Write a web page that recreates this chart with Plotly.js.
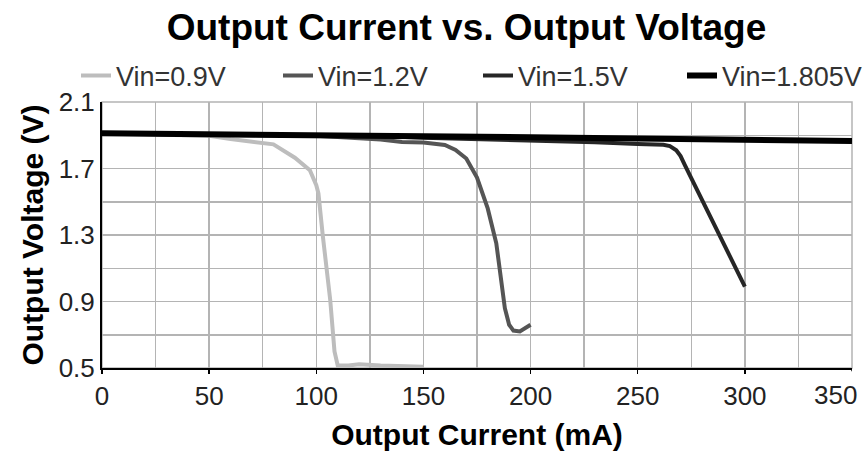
<!DOCTYPE html>
<html>
<head>
<meta charset="utf-8">
<script src="https://cdn.plot.ly/plotly-3.0.1.min.js"></script>
<style>html,body{margin:0;padding:0;background:#fff;}#chart{width:867px;height:460px;}</style>
</head>
<body>
<div id="chart"></div>
<script>
// Data
const seriesNames = ["Vin=0.9V", "Vin=1.2V", "Vin=1.5V", "Vin=1.805V"];

const current09 = [0, 20, 40, 50, 60, 70, 80, 90, 97, 100, 101, 103, 106.5, 108.5, 110, 115, 120, 130, 140, 150];
const voltage09 = [1.91, 1.905, 1.9, 1.897, 1.877, 1.862, 1.845, 1.765, 1.69, 1.6, 1.55, 1.3, 0.91, 0.6, 0.515, 0.515, 0.522, 0.515, 0.512, 0.508];

const current12 = [0, 50, 100, 130, 140, 150, 160, 165, 170, 175, 180, 184, 186, 188, 190, 192, 195, 198, 200];
const voltage12 = [1.91, 1.905, 1.897, 1.875, 1.86, 1.857, 1.842, 1.812, 1.76, 1.645, 1.46, 1.25, 1.05, 0.86, 0.76, 0.725, 0.72, 0.74, 0.76];

const current15 = [0, 50, 100, 130, 150, 200, 230, 250, 262, 265, 268, 270, 272, 300];
const voltage15 = [1.91, 1.905, 1.9, 1.895, 1.885, 1.87, 1.858, 1.847, 1.843, 1.835, 1.81, 1.775, 1.72, 0.99];

const current18 = [0, 100, 130, 150, 200, 250, 300, 350];
const voltage18 = [1.912, 1.905, 1.9, 1.894, 1.888, 1.882, 1.875, 1.865];

const xTickVals = [0, 50, 100, 150, 200, 250, 300];
const xEdgeTick = 350;
const yTickVals = [0.5, 0.9, 1.3, 1.7, 2.1];

const FONT = "Liberation Sans, Arial, sans-serif";
const legendTextX = [118, 320, 520, 724];   // pixel x where each legend label starts
const legendFont = {family: FONT, size: 27, color: "#333"};

function legendAt(i) {
  return {orientation: "h", x: (legendTextX[i] - 42) / 867, xref: "container", xanchor: "left",
          y: 1 - 76 / 460, yref: "container", yanchor: "middle",
          font: legendFont, bgcolor: "rgba(0,0,0,0)", borderwidth: 0};
}

const legendIds = ["legend", "legend2", "legend3", "legend4"];
const colors = ["#bdbdbd", "#555555", "#262626", "#000000"];
const widths = [4, 4, 4, 6];
const xs = [current09, current12, current15, current18];
const ys = [voltage09, voltage12, voltage15, voltage18];

const traces = seriesNames.map((n, i) => ({
  x: xs[i], y: ys[i], name: n, mode: "lines", legend: legendIds[i],
  line: {color: colors[i], width: widths[i]}
}));

const layout = {
  width: 867, height: 460,
  paper_bgcolor: "#ffffff", plot_bgcolor: "#ffffff",
  margin: {l: 102, r: 15, t: 102, b: 92},
  font: {family: FONT, color: "#222"},
  title: {text: "<b>Output Current vs. Output Voltage</b>", font: {family: FONT, size: 37, color: "#000"},
          x: 0.538, xanchor: "center", xref: "container", y: 1 - 27 / 460, yref: "container", yanchor: "middle"},
  showlegend: true,
  legend: legendAt(0), legend2: legendAt(1), legend3: legendAt(2), legend4: legendAt(3),
  xaxis: {
    range: [0, 350], tickvals: xTickVals, ticktext: xTickVals.map(String),
    showgrid: true, gridcolor: "#b4b4b4", gridwidth: 1.5,
    minor: {dtick: 25, tick0: 0, showgrid: true, gridcolor: "#b4b4b4", gridwidth: 1.5},
    showline: true, linecolor: "#000", linewidth: 2, ticks: "outside", ticklen: 4, tickcolor: "#000", tickwidth: 1.5,
    zeroline: false, tickfont: {family: FONT, size: 26, color: "#222"},
    title: {text: "<b>Output Current (mA)</b>", font: {family: FONT, size: 30, color: "#000"}, standoff: 14}
  },
  yaxis: {
    range: [0.5, 2.1], tickvals: yTickVals, ticktext: yTickVals.map(v => v.toFixed(1)),
    showgrid: true, gridcolor: "#b4b4b4", gridwidth: 1.5,
    minor: {dtick: 0.2, tick0: 0.5, showgrid: true, gridcolor: "#b4b4b4", gridwidth: 1.5},
    showline: true, linecolor: "#000", linewidth: 2, ticks: "",
    zeroline: false, tickfont: {family: FONT, size: 26, color: "#222"},
    title: {text: "<b>Output Voltage (V)</b>", font: {family: FONT, size: 30, color: "#000"}, standoff: 6}
  },
  annotations: [{
    x: xEdgeTick, xref: "x", y: 0, yref: "paper", yanchor: "top", xanchor: "center", xshift: -17, yshift: -10,
    text: String(xEdgeTick), showarrow: false, font: {family: FONT, size: 26, color: "#222"}
  }],
  shapes: [
    {type: "line", xref: "x", yref: "paper", x0: xEdgeTick, x1: xEdgeTick, y0: 0, y1: -0.012,
     line: {color: "#000", width: 1.5}},
    {type: "rect", xref: "paper", yref: "paper", x0: 0, x1: 1, y0: 0, y1: 1,
     line: {color: "#b4b4b4", width: 1.5}, layer: "below"}
  ]
};

Plotly.newPlot("chart", traces, layout, {displayModeBar: false, staticPlot: true});
</script>
</body>
</html>
